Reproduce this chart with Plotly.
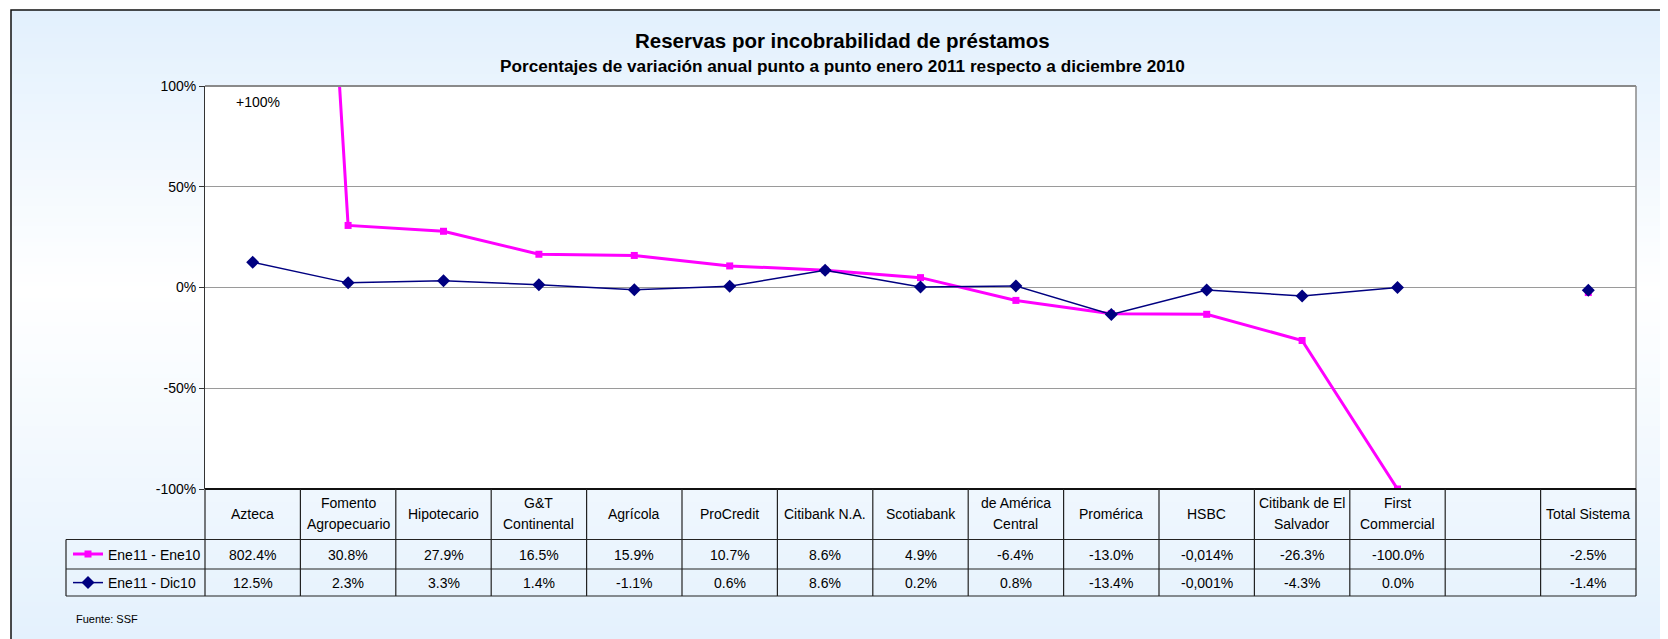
import plotly.graph_objects as go

# ---------------- data ----------------
categories = ["Azteca", "Fomento<br>Agropecuario", "Hipotecario", "G&T<br>Continental", "Agrícola",
              "ProCredit", "Citibank N.A.", "Scotiabank", "de América<br>Central", "Promérica",
              "HSBC", "Citibank de El<br>Salvador", "First<br>Commercial", " ", "Total Sistema"]

series1_name = "Ene11 - Ene10"
series1_values = [802.4, 30.8, 27.9, 16.5, 15.9, 10.7, 8.6, 4.9, -6.4, -13.0, -13.3, -26.3, -100.0, None, -2.5]
series1_labels = ["802.4%", "30.8%", "27.9%", "16.5%", "15.9%", "10.7%", "8.6%", "4.9%", "-6.4%",
                  "-13.0%", "-0,014%", "-26.3%", "-100.0%", "", "-2.5%"]

series2_name = "Ene11 - Dic10"
series2_values = [12.5, 2.3, 3.3, 1.4, -1.1, 0.6, 8.6, 0.2, 0.8, -13.4, -1.3, -4.2, 0.0, None, -1.4]
series2_labels = ["12.5%", "2.3%", "3.3%", "1.4%", "-1.1%", "0.6%", "8.6%", "0.2%", "0.8%",
                  "-13.4%", "-0,001%", "-4.3%", "0.0%", "", "-1.4%"]

y_tickvals = [-100, -50, 0, 50, 100]
y_ticktext = ["-100%", "-50%", "0%", "50%", "100%"]

title_text = "Reservas por incobrabilidad de préstamos"
subtitle_text = "Porcentajes de variación anual punto a punto enero 2011 respecto a diciembre 2010"
note_text = "+100%"
source_text = "Fuente: SSF"

# ---------------- layout geometry (screen pixels) ----------------
W, H = 1668, 639
OFF = 8  # page body margin
L, R, T, B = 205, 1636, 86, 489
FONT = "Arial, Liberation Sans, sans-serif"


def px_x(p):
    return (p - L) / (R - L)


def px_y(p):
    return (B - p) / (B - T)


xs = list(range(len(categories)))
n = len(categories)

fig = go.Figure()
fig.add_trace(go.Scatter(
    x=xs, y=series1_values, name=series1_name, mode="lines+markers",
    line=dict(color="#FF00FF", width=3),
    marker=dict(symbol="square", size=7, color="#FF00FF"),
    connectgaps=False, cliponaxis=True, legend="legend"))
fig.add_trace(go.Scatter(
    x=xs, y=series2_values, name=series2_name, mode="lines+markers",
    line=dict(color="#000080", width=1.5),
    marker=dict(symbol="diamond", size=10, color="#000080"),
    connectgaps=False, cliponaxis=True, legend="legend2"))

shapes = []
# background gradient (light blue -> white -> light blue)
top_c = (226, 240, 253)
bot_c = (228, 241, 253)
mid_y = 290
y0 = 10
step = 4
while y0 < H + OFF:
    y1 = y0 + step
    yc = (y0 + y1) / 2
    if yc <= mid_y:
        t = (yc - 10) / (mid_y - 10)
        c = tuple(round(top_c[k] + (255 - top_c[k]) * t) for k in range(3))
    else:
        t = min(1.0, (yc - mid_y) / (H - mid_y))
        c = tuple(round(255 + (bot_c[k] - 255) * t) for k in range(3))
    shapes.append(dict(type="rect", xref="paper", yref="paper", layer="below",
                       x0=px_x(11), x1=px_x(1700), y0=px_y(y1 + 0.5), y1=px_y(y0),
                       fillcolor="rgb(%d,%d,%d)" % c, line=dict(width=0)))
    y0 = y1
# white plot area
shapes.append(dict(type="rect", xref="paper", yref="paper", layer="below",
                   x0=0, x1=1, y0=0, y1=1, fillcolor="white", line=dict(width=0)))
# plot border top / right
shapes.append(dict(type="line", xref="paper", yref="paper", x0=0, x1=1, y0=1, y1=1,
                   line=dict(color="#8a8a8a", width=2)))
shapes.append(dict(type="line", xref="paper", yref="paper", x0=1, x1=1, y0=0, y1=1,
                   line=dict(color="#8a8a8a", width=1.5)))
# outer chart border
shapes.append(dict(type="rect", xref="paper", yref="paper", x0=px_x(11), x1=px_x(1720),
                   y0=px_y(700), y1=px_y(10), line=dict(color="#111111", width=1.5),
                   fillcolor="rgba(0,0,0,0)"))

# data table grid
tbl_top, hdr_bot, row1_bot, row2_bot = 489, 539.5, 569, 596
leg_left = 66
lc = "#222222"
shapes.append(dict(type="line", xref="paper", yref="paper", x0=0, x1=1,
                   y0=px_y(tbl_top), y1=px_y(tbl_top), line=dict(color="#111111", width=2)))
for yy in (hdr_bot, row1_bot, row2_bot):
    shapes.append(dict(type="line", xref="paper", yref="paper", x0=px_x(leg_left), x1=1,
                       y0=px_y(yy), y1=px_y(yy), line=dict(color=lc, width=1.2)))
for j in range(n + 1):
    shapes.append(dict(type="line", xref="paper", yref="paper", x0=j / n, x1=j / n,
                       y0=px_y(row2_bot), y1=px_y(tbl_top), line=dict(color=lc, width=1.2)))
shapes.append(dict(type="line", xref="paper", yref="paper", x0=px_x(leg_left), x1=px_x(leg_left),
                   y0=px_y(row2_bot), y1=px_y(hdr_bot), line=dict(color=lc, width=1.2)))

annotations = []
tf = dict(family=FONT, size=14, color="#000000")
for i, c in enumerate(categories):
    lines = c.split("<br>")
    m = len(lines)
    for j, ln in enumerate(lines):
        annotations.append(dict(x=i, xref="x", y=px_y(513.5), yref="paper", text=ln,
                                showarrow=False, font=tf, xanchor="center", yanchor="middle",
                                yshift=((m - 1) / 2 - j) * 21))
    annotations.append(dict(x=i, xref="x", y=px_y(555), yref="paper", text=series1_labels[i],
                            showarrow=False, font=tf, xanchor="center", yanchor="middle"))
    annotations.append(dict(x=i, xref="x", y=px_y(583), yref="paper", text=series2_labels[i],
                            showarrow=False, font=tf, xanchor="center", yanchor="middle"))

annotations.append(dict(x=0.06, xref="x", y=92, yref="y", text=note_text, showarrow=False,
                        font=tf, xanchor="center", yanchor="middle"))
annotations.append(dict(x=px_x(842.5), xref="paper", y=px_y(40), yref="paper",
                        text="<b>" + title_text + "</b>", showarrow=False,
                        font=dict(family=FONT, size=20.5, color="#000000"),
                        xanchor="center", yanchor="middle"))
annotations.append(dict(x=px_x(842.5), xref="paper", y=px_y(66), yref="paper",
                        text="<b>" + subtitle_text + "</b>", showarrow=False,
                        font=dict(family=FONT, size=17.2, color="#000000"),
                        xanchor="center", yanchor="middle"))
annotations.append(dict(x=px_x(74), xref="paper", y=px_y(619), yref="paper",
                        text=source_text, showarrow=False,
                        font=dict(family=FONT, size=11, color="#000000"),
                        xanchor="left", yanchor="middle"))

leg_common = dict(xanchor="left", yanchor="middle", bgcolor="rgba(0,0,0,0)",
                  borderwidth=0, font=dict(family=FONT, size=14, color="#000000"),
                  itemwidth=30, tracegroupgap=0)

fig.update_layout(
    width=W, height=H,
    margin=dict(l=L - OFF, r=W - (R - OFF), t=T - OFF, b=H - (B - OFF), pad=0),
    paper_bgcolor="white", plot_bgcolor="white",
    font=dict(family=FONT, size=14, color="#000000"),
    showlegend=True,
    legend=dict(x=px_x(68), y=px_y(554.5), **leg_common),
    legend2=dict(x=px_x(68), y=px_y(583), **leg_common),
    xaxis=dict(range=[-0.5, n - 0.5], showgrid=False, showticklabels=False, zeroline=False,
               showline=False, ticks="", fixedrange=True),
    yaxis=dict(range=[-100, 100], tickvals=y_tickvals, ticktext=y_ticktext,
               showgrid=True, gridcolor="#9a9a9a", gridwidth=1.2, zeroline=False,
               showline=True, linecolor="#333333", linewidth=1, ticks="outside",
               ticklen=5, tickcolor="#333333", tickfont=dict(family=FONT, size=14),
               fixedrange=True),
    shapes=shapes, annotations=annotations,
)

fig.write_html("out.html")
